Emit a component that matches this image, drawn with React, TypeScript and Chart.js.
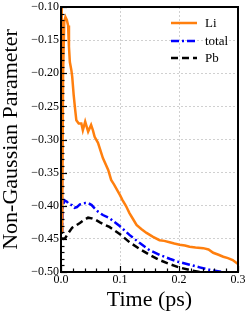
import React, { useEffect, useRef } from "react";
import { Chart, registerables } from "chart.js";

Chart.register(...registerables);

// ---- Data ----
const liTime = [0.001, 0.002, 0.0035, 0.0055, 0.0075, 0.01, 0.012, 0.0135, 0.015, 0.0175, 0.019, 0.0215, 0.024, 0.026, 0.03, 0.0345, 0.037, 0.041, 0.046, 0.051, 0.054, 0.057, 0.0627, 0.0656, 0.071, 0.08, 0.085, 0.09, 0.095, 0.1, 0.104, 0.11, 0.116, 0.122, 0.128, 0.136, 0.145, 0.156, 0.167, 0.175, 0.184, 0.192, 0.201, 0.21, 0.218, 0.228, 0.241, 0.25, 0.258, 0.267, 0.275, 0.283, 0.291, 0.3];
const liValues = [0.0, -0.44, -0.2, -0.122, -0.115, -0.12, -0.128, -0.16, -0.183, -0.195, -0.205, -0.233, -0.255, -0.271, -0.276, -0.276, -0.286, -0.273, -0.288, -0.278, -0.286, -0.296, -0.305, -0.313, -0.328, -0.346, -0.361, -0.368, -0.376, -0.384, -0.391, -0.4, -0.411, -0.42, -0.429, -0.435, -0.441, -0.447, -0.452, -0.453, -0.455, -0.457, -0.459, -0.46, -0.462, -0.463, -0.464, -0.466, -0.471, -0.474, -0.477, -0.479, -0.482, -0.488];

const totalTime = [0.0008, 0.0018, 0.003, 0.006, 0.01, 0.014, 0.019, 0.023, 0.027, 0.032, 0.036, 0.041, 0.046, 0.052, 0.057, 0.063, 0.071, 0.082, 0.1, 0.116, 0.133, 0.15, 0.167, 0.184, 0.2, 0.218, 0.235, 0.253, 0.275, 0.29];
const totalValues = [0.0, -0.44, -0.4, -0.392, -0.394, -0.398, -0.399, -0.403, -0.402, -0.398, -0.397, -0.396, -0.396, -0.399, -0.404, -0.409, -0.414, -0.4185, -0.431, -0.444, -0.456, -0.467, -0.474, -0.48, -0.485, -0.489, -0.493, -0.497, -0.5, -0.503];

const pbTime = [0.0005, 0.0015, 0.004, 0.007, 0.012, 0.019, 0.025, 0.032, 0.04, 0.046, 0.052, 0.058, 0.066, 0.075, 0.082, 0.1, 0.116, 0.133, 0.15, 0.167, 0.184, 0.2, 0.218, 0.241, 0.25];
const pbValues = [0.0, -0.449, -0.45, -0.449, -0.442, -0.433, -0.43, -0.426, -0.421, -0.418, -0.419, -0.421, -0.425, -0.429, -0.432, -0.443, -0.455, -0.465, -0.474, -0.482, -0.488, -0.493, -0.497, -0.501, -0.503];

const seriesLabels = ["Li", "total", "Pb"];
const xTitle = "Time (ps)";
const yTitle = "Non-Gaussian Parameter";

const SERIF = "'Liberation Serif', 'Times New Roman', serif";

const toPoints = (xs: number[], ys: number[]) => xs.map((x, i) => ({ x, y: ys[i] }));

const framePlugin = {
  id: "frameTicksLegend",
  afterDatasetsDraw(chart: any) {
    const { ctx, chartArea } = chart;
    const { left, right, top, bottom } = chartArea;
    const xs = chart.scales.x;
    const ys = chart.scales.y;
    ctx.save();
    ctx.strokeStyle = "#000";
    // inward ticks on left spine
    ctx.lineWidth = 1.2;
    for (let i = 0; i <= 40; i++) {
      const v = -0.5 + i * 0.01;
      const py = Math.round(ys.getPixelForValue(v)) + 0.5;
      const len = i % 5 === 0 ? 6 : 3.5;
      ctx.beginPath();
      ctx.moveTo(left, py);
      ctx.lineTo(left + len, py);
      ctx.stroke();
    }
    // inward ticks on bottom spine
    for (let i = 0; i <= 15; i++) {
      const v = i * 0.02;
      const px = Math.round(xs.getPixelForValue(v)) + 0.5;
      const len = i % 5 === 0 ? 6 : 3.5;
      ctx.beginPath();
      ctx.moveTo(px, bottom);
      ctx.lineTo(px, bottom - len);
      ctx.stroke();
    }
    // frame
    ctx.lineWidth = 2;
    ctx.strokeRect(left, top, right - left, bottom - top);

    // legend
    const ds = chart.data.datasets;
    const lx0 = 171;
    const lx1 = 197;
    const rowY = [23, 41, 58];
    ctx.font = `13px ${SERIF}`;
    ctx.textBaseline = "middle";
    ctx.textAlign = "left";
    ds.forEach((d: any, i: number) => {
      const y = rowY[i];
      ctx.beginPath();
      ctx.strokeStyle = d.borderColor;
      ctx.lineWidth = d.borderWidth;
      ctx.setLineDash(d.borderDash || []);
      ctx.moveTo(lx0, y);
      ctx.lineTo(lx1, y);
      ctx.stroke();
      ctx.setLineDash([]);
      ctx.fillStyle = "#000";
      ctx.fillText(d.label, 205, y + 1);
    });
    ctx.restore();
  },
};

export default function App() {
  const ref = useRef<HTMLCanvasElement | null>(null);

  useEffect(() => {
    document.body.style.margin = "0";
    const canvas = ref.current;
    if (!canvas) return;
    const chart = new Chart(canvas, {
      type: "line",
      data: {
        datasets: [
          {
            label: seriesLabels[0],
            data: toPoints(liTime, liValues),
            borderColor: "#ff7f0e",
            borderWidth: 2.5,
            borderDash: [],
            pointRadius: 0,
            tension: 0,
            fill: false,
          },
          {
            label: seriesLabels[1],
            data: toPoints(totalTime, totalValues),
            borderColor: "#0000ff",
            borderWidth: 2.5,
            borderDash: [8, 3, 2, 3],
            pointRadius: 0,
            tension: 0,
            fill: false,
          },
          {
            label: seriesLabels[2],
            data: toPoints(pbTime, pbValues),
            borderColor: "#000000",
            borderWidth: 2.5,
            borderDash: [7, 4],
            pointRadius: 0,
            tension: 0,
            fill: false,
          },
        ],
      },
      options: {
        responsive: false,
        animation: false,
        events: [],
        layout: { padding: { top: 7, right: 11, left: 0, bottom: 0 } },
        plugins: {
          legend: { display: false },
          tooltip: { enabled: false },
        },
        scales: {
          x: {
            type: "linear",
            min: 0,
            max: 0.3,
            afterFit: (s: any) => {
              s.height = 45;
              s.paddingLeft = 0;
              s.paddingRight = 0;
            },
            ticks: {
              stepSize: 0.1,
              maxRotation: 0,
              padding: 1,
              color: "#000",
              font: { family: SERIF, size: 12 },
              callback: (v: any) => Number(v).toFixed(1),
            },
            grid: { color: "#d0d0d0", drawTicks: false, lineWidth: 1 },
            border: { display: false, dash: [2, 2] },
            title: {
              display: true,
              text: xTitle,
              color: "#000",
              font: { family: SERIF, size: 22, lineHeight: 1 },
              padding: { top: 0, bottom: 6 },
            },
          },
          y: {
            type: "linear",
            min: -0.5,
            max: -0.1,
            afterFit: (s: any) => {
              s.width = 61;
              s.paddingTop = 0;
              s.paddingBottom = 0;
            },
            ticks: {
              stepSize: 0.05,
              padding: 2,
              color: "#000",
              font: { family: SERIF, size: 12 },
              callback: (v: any) => {
                const s = Number(v).toFixed(2);
                return s.startsWith("-") ? "\u2212" + s.slice(1) : s;
              },
            },
            grid: { color: "#d0d0d0", drawTicks: false, lineWidth: 1 },
            border: { display: false, dash: [2, 2] },
            title: {
              display: true,
              text: yTitle,
              color: "#000",
              font: { family: SERIF, size: 22, lineHeight: 1 },
              padding: { top: 0, bottom: 0 },
            },
          },
        },
      },
      plugins: [framePlugin],
    } as any);
    return () => chart.destroy();
  }, []);

  return (
    <div style={{ width: 249, height: 317, position: "relative" }}>
      <canvas ref={ref} width={249} height={317} style={{ display: "block" }} />
    </div>
  );
}
